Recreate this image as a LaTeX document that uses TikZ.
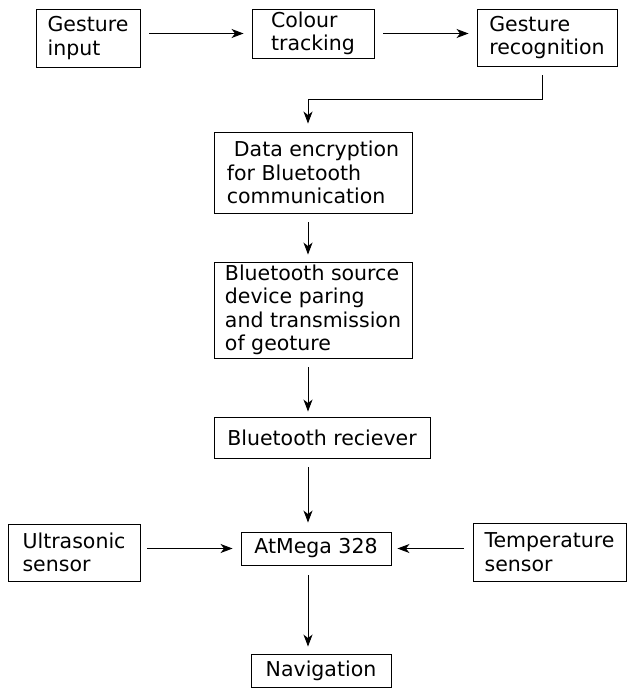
\documentclass[tikz,border=0pt]{standalone}
\usepackage{fontspec}
\setmainfont{DejaVu Sans}
\usetikzlibrary{arrows.meta,calc}
\begin{document}
\begin{tikzpicture}[x=1pt,y=-1pt,
  box/.style={draw,line width=0.9pt,align=left,inner sep=0pt,
    font=\fontsize{20.5}{23.5}\selectfont},
  arr/.style={draw,line width=0.9pt,-{Stealth[length=12pt,width=9pt,inset=3.5pt]}},
  wire/.style={draw,line width=0.9pt}]
\useasboundingbox (0,0) rectangle (627,688);
\node[box,minimum width=104pt,minimum height=58pt] (GI) at (88,38) {Gesture\\input};
\node[box,minimum width=122pt,minimum height=49pt] (CT) at (313,33.5) {Colour\\tracking};
\node[box,minimum width=140pt,minimum height=57pt] (GR) at (547,37.5) {Gesture\\recognition};
\node[box,minimum width=198pt,minimum height=81pt] (DE) at (313,172.5) {\hspace{7pt}Data encryption\\for Bluetooth\\communication};
\node[box,minimum width=198pt,minimum height=96pt] (BS) at (313,310) {Bluetooth source\\device paring\\and transmission\\of geoture};
\node[box,minimum width=216pt,minimum height=41pt] (BR) at (322,437.5) {Bluetooth reciever};
\node[box,minimum width=150pt,minimum height=33pt] (AM) at (316,548.5) {AtMega 328};
\node[box,minimum width=132pt,minimum height=57pt] (US) at (74,552.5) {Ultrasonic\\sensor};
\node[box,minimum width=153pt,minimum height=58pt] (TS) at (549.5,552) {Temperature\\sensor};
\node[box,minimum width=140pt,minimum height=33pt] (NV) at (321,670.5) {Navigation};
\coordinate (ax) at (308,0);
\coordinate (ex) at (542,0);
\draw[arr,shorten <=9pt,shorten >=8pt] (GI.east |- CT.west) -- (CT.west);
\draw[arr,shorten <=9pt,shorten >=8pt] (CT.east) -- (GR.west |- CT.east);
\draw[arr,shorten <=9pt,shorten >=8pt] (GR.south -| ex) -- ++(0,33) -| (DE.north -| ax);
\draw[arr,shorten <=9pt,shorten >=7pt] (DE.south -| ax) -- (BS.north -| ax);
\draw[arr,shorten <=9pt,shorten >=5pt] (BS.south -| ax) -- (BR.north -| ax);
\draw[arr,shorten <=9pt,shorten >=9pt] (BR.south -| ax) -- (AM.north -| ax);
\draw[arr,shorten <=10pt,shorten >=7pt] (AM.south -| ax) -- (NV.north -| ax);
\draw[arr,shorten <=7pt,shorten >=8pt] (US.east |- AM.west) -- (AM.west);
\draw[arr,shorten <=9pt,shorten >=6pt] (TS.west |- AM.east) -- (AM.east);
\end{tikzpicture}
\end{document}
